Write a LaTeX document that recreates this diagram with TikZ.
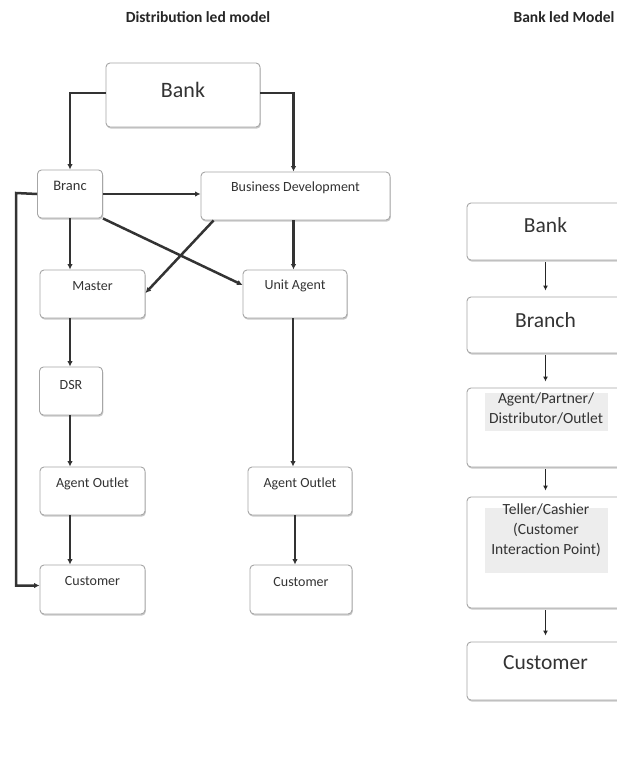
\documentclass[tikz,border=0pt]{standalone}
\usepackage{fontspec}
\setmainfont{Carlito}
\usetikzlibrary{arrows.meta,shadows}

\begin{document}
\begin{tikzpicture}[x=1pt,y=-1pt,
  box/.style={draw=black!35, line width=0.9pt, rounded corners=4pt, fill=white,
    drop shadow={shadow xshift=0.8pt, shadow yshift=-1.6pt, opacity=0.35, fill=black!60},
    inner sep=0pt},
  lblS/.style={text=black!80, font=\fontsize{14}{16}\selectfont, inner sep=0pt},
  lblB/.style={text=black!80, font=\fontsize{21.5}{24}\selectfont, inner sep=0pt},
  lblM/.style={text=black!80, font=\fontsize{15.5}{20}\selectfont, inner sep=1pt, align=center},
  heading/.style={font=\bfseries\fontsize{15.5}{18}\selectfont, text=black!85},
  flow/.style={line width=2.5pt, draw=black!80, -{Latex[length=5.5pt,width=5.5pt]}},
  flowR/.style={line width=1.7pt, draw=black!85, -{Latex[length=5pt,width=5pt]}, shorten >=6pt, shorten <=2pt},
]
\clip (0,0) rectangle (617,768);
\fill[white] (0,0) rectangle (617,768);

% headings
\node[heading] (h1) at (198,17) {Distribution led model};
\node[heading] (h2) at (564,17) {Bank led Model};

% ---------------- distribution led model ----------------
\node[box, minimum width=154, minimum height=64, label={[lblB, font=\fontsize{22}{24}\selectfont, yshift=5pt]center:Bank}] (bank) at (183,95) {};
\node[box, minimum width=65, minimum height=48, label={[lblS, font=\fontsize{14.5}{16}\selectfont, yshift=8pt]center:Branc}] (branc) at (70,194) {};
\node[box, minimum width=189, minimum height=48, label={[lblS, yshift=8pt]center:Business Development}] (bd) at (295.5,196) {};
\node[box, minimum width=105, minimum height=48, label={[lblS, yshift=8pt]center:Master}] (master) at (92.5,294) {};
\node[box, minimum width=104, minimum height=48, label={[lblS, yshift=8pt]center:Unit Agent}] (unit) at (295,294) {};
\node[box, minimum width=63, minimum height=48, label={[lblS, yshift=6pt]center:DSR}] (dsr) at (71,391) {};
\node[box, minimum width=105, minimum height=48, label={[lblS, yshift=7pt]center:Agent Outlet}] (aoL) at (92.5,491) {};
\node[box, minimum width=104, minimum height=48, label={[lblS, yshift=7pt]center:Agent Outlet}] (aoR) at (300,491) {};
\node[box, minimum width=105, minimum height=49, label={[lblS, yshift=8pt]center:Customer}] (cuL) at (92.5,589.5) {};
\node[box, minimum width=102, minimum height=49, label={[lblS, yshift=7pt]center:Customer}] (cuR) at (301,589.5) {};

\coordinate (fb) at (16,193);

\draw[flow] ([yshift=2pt]bank.west) -| (branc.north);
\draw[flow] ([yshift=2pt]bank.east) -| ([xshift=-2pt]bd.north);
\draw[flow] (branc.east) -- (branc.east -| bd.west);
\draw[flow] (branc.south) -- (branc.south |- master.north);
\draw[flow] ([xshift=-2pt]bd.south) -- ([xshift=-2pt]bd.south |- unit.north);
\draw[flow] (branc.south east) -- ([yshift=9pt]unit.west);
\draw[flow] ([xshift=13pt]bd.south west) -- ([yshift=1pt]master.east);
\draw[flow] (branc.south |- master.south) -- (branc.south |- dsr.north);
\draw[flow] (branc.south |- dsr.south) -- (branc.south |- aoL.north);
\draw[flow] (branc.south |- aoL.south) -- (branc.south |- cuL.north);
\draw[flow] ([xshift=-2pt]unit.south) -- ([xshift=-2pt]unit.south |- aoR.north);
\draw[flow] ([xshift=-5pt]aoR.south) -- ([xshift=-5pt]aoR.south |- cuR.north);
\draw[flow] (branc.west) -- (fb) |- ([yshift=4pt]cuL.west);

% ---------------- bank led model ----------------
\node[box, minimum width=157, minimum height=57, label={[lblB, yshift=6pt]center:Bank}] (rBank) at (545.5,231.5) {};
\node[box, minimum width=157, minimum height=56, label={[lblB, yshift=5pt]center:Branch}] (rBranch) at (545.5,325) {};
\node[box, minimum width=157, minimum height=79] (rAgent) at (545.5,427.5) {};
\node[box, minimum width=157, minimum height=111] (rTeller) at (545.5,552.5) {};
\node[box, minimum width=157, minimum height=58, label={[lblB, yshift=8pt]center:Customer}] (rCust) at (545.5,671) {};

% shaded text panels inside the two tall boxes
\fill[black!7] (485,393) rectangle (608,431);
\fill[black!7] (485,508) rectangle (608,573);
\node[lblM, anchor=north] (tAgent) at (546,392) {Agent/Partner/\\Distributor/Outlet};
\node[lblM, anchor=north] (tTeller) at (546,503) {Teller/Cashier\\(Customer\\Interaction Point)};

\draw[flowR] (rBank.south) -- (rBranch.north);
\draw[flowR] (rBranch.south) -- (rAgent.north);
\draw[flowR] (rAgent.south) -- (rTeller.north);
\draw[flowR] (rTeller.south) -- (rCust.north);
\end{tikzpicture}
\end{document}
